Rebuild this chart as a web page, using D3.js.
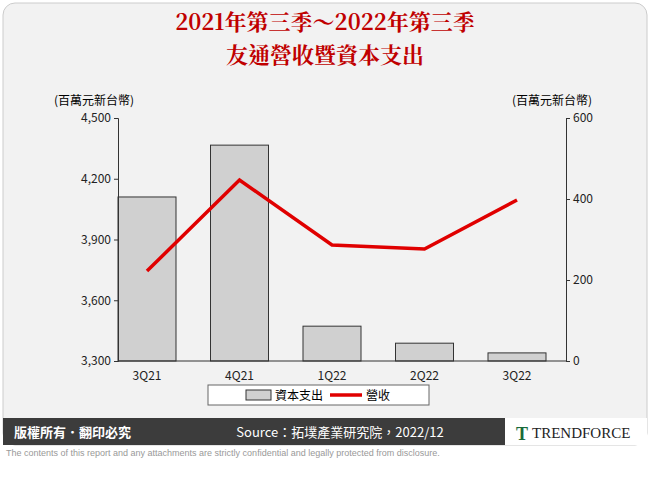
<!DOCTYPE html><html><head><meta charset="utf-8"><script src="https://d3js.org/d3.v7.min.js"></script>
<style>body{margin:0;background:#fff}svg{display:block}</style></head><body><svg id="c" width="650" height="485"></svg>
<script>
const categories=["3Q21","4Q21","1Q22","2Q22","3Q22"];
const capex=[405,533,86,44,20];
const revenue=[3744,4194,3873,3853,4095];
const leftTicks=[3300,3600,3900,4200,4500];
const rightTicks=[0,200,400,600];
const svg=d3.select("#c");
svg.append("rect").attr("x",0).attr("y",0).attr("width",650).attr("height",485).attr("fill","#fff");
svg.append("rect").attr("x",3).attr("y",3).attr("width",644).attr("height",442).attr("rx",12).attr("fill","#f2f2f2").attr("stroke","#ccc");
svg.append("rect").attr("x",3).attr("y",418).attr("width",644).attr("height",27).attr("fill","#3c3c3c");
const f="'Noto Sans CJK TC','Noto Sans',sans-serif";
svg.append("text").attr("x",325).attr("y",30).attr("text-anchor","middle").attr("fill","#c00000").attr("font-size",22).attr("font-weight","bold").attr("font-family","'Noto Serif CJK TC','Noto Sans CJK TC',serif").text("2021年第三季～2022年第三季");
svg.append("text").attr("x",325).attr("y",63).attr("text-anchor","middle").attr("fill","#c00000").attr("font-size",22).attr("font-weight","bold").attr("font-family","'Noto Serif CJK TC','Noto Sans CJK TC',serif").text("友通營收暨資本支出");
const L=118,R=566,T=118,B=361;
const yl=d3.scaleLinear().domain([3300,4500]).range([B,T]);
const yr=d3.scaleLinear().domain([0,600]).range([B,T]);
const bx=d3.scaleBand().domain(categories).range([100.75,563.25]);
const bw=58;
svg.selectAll(".bar").data(categories).enter().append("rect").attr("x",d=>bx(d)+bx.bandwidth()/2-bw/2).attr("y",(d,i)=>yr(capex[i])).attr("width",bw).attr("height",(d,i)=>B-yr(capex[i])).attr("fill","#d0d0d0").attr("stroke","#333").attr("stroke-width",1);
const ga=svg.append("g").attr("transform",`translate(${L},0)`).call(d3.axisLeft(yl).tickValues(leftTicks).tickFormat(d3.format(",")).tickSize(4));
const gr=svg.append("g").attr("transform",`translate(${R},0)`).call(d3.axisRight(yr).tickValues(rightTicks).tickSize(4));
const gb=svg.append("g").attr("transform",`translate(0,${B})`).call(d3.axisBottom(bx).tickSize(0).tickPadding(10));
gb.select(".domain").attr("d",`M${L},0H${R}`);
[ga,gr,gb].forEach(g=>{g.selectAll("text").attr("font-size",12).attr("font-family",f).attr("fill","#222");g.selectAll("path,line").attr("stroke","#333");});
svg.append("text").attr("x",54).attr("y",105).attr("font-size",12).attr("font-family",f).text("(百萬元新台幣)");
svg.append("text").attr("x",512).attr("y",105).attr("font-size",12).attr("font-family",f).text("(百萬元新台幣)");
svg.append("path").datum(revenue).attr("fill","none").attr("stroke","#e00000").attr("stroke-width",3.5).attr("d",d3.line().x((d,i)=>bx(categories[i])+bx.bandwidth()/2).y(d=>yl(d)));
const lg=svg.append("g");
lg.append("rect").attr("x",208).attr("y",385).attr("width",221).attr("height",20).attr("fill","#fff").attr("stroke","#666");
lg.append("rect").attr("x",246).attr("y",390).attr("width",25).attr("height",10).attr("fill","#d0d0d0").attr("stroke","#333");
lg.append("text").attr("x",275).attr("y",400).attr("font-size",12).attr("font-family",f).text("資本支出");
lg.append("line").attr("x1",330).attr("x2",362).attr("y1",395).attr("y2",395).attr("stroke","#e00000").attr("stroke-width",3.5);
lg.append("text").attr("x",366).attr("y",400).attr("font-size",12).attr("font-family",f).text("營收");
svg.append("text").attr("x",14).attr("y",437).attr("fill","#fff").attr("font-size",13).attr("font-weight","bold").attr("font-family",f).text("版權所有．翻印必究");
svg.append("text").attr("x",340).attr("y",437).attr("text-anchor","middle").attr("fill","#fff").attr("font-size",13).attr("font-family",f).text("Source：拓墣產業研究院，2022/12");
svg.append("rect").attr("x",505).attr("y",418).attr("width",142).attr("height",27).attr("fill","#fff");
svg.append("text").attr("x",516).attr("y",440).attr("fill","#1a6a3a").attr("font-size",18).attr("font-weight","bold").attr("font-family","'Liberation Serif',serif").text("T");
svg.append("text").attr("x",532).attr("y",438).attr("fill","#222").attr("font-size",15).attr("font-family","'Liberation Serif',serif").text("TRENDFORCE");
svg.append("text").attr("x",6).attr("y",456).attr("fill","#999").attr("font-size",9).attr("font-family","'Liberation Sans',sans-serif").text("The contents of this report and any attachments are strictly confidential and legally protected from disclosure.");
</script></body></html>
